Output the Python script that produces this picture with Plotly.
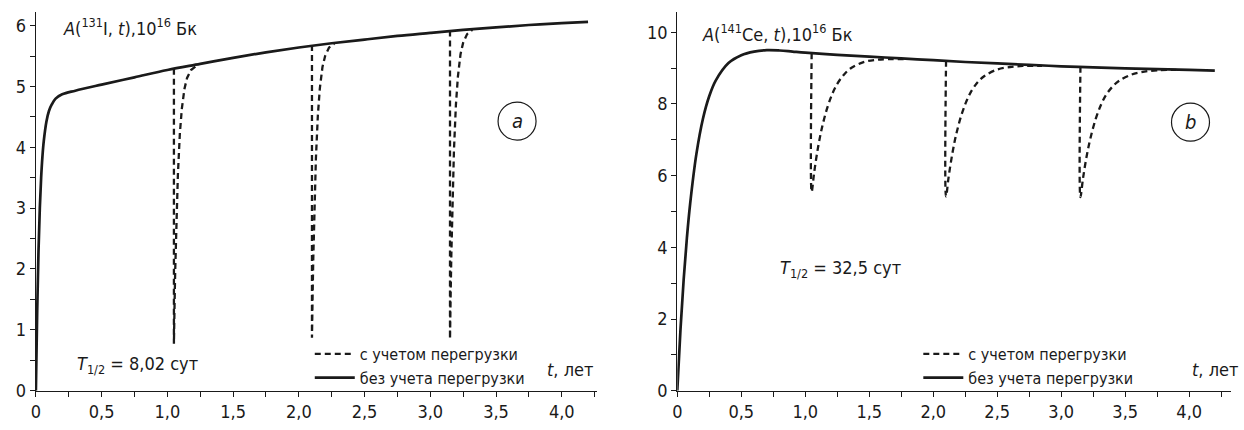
import plotly.graph_objects as go

# ---------------- data ----------------
# Panel a: I-131, solid (без учета перегрузки)
i131_t = [0, 0.01, 0.02, 0.03, 0.04, 0.05, 0.06, 0.08, 0.10, 0.12, 0.15, 0.20, 0.30, 0.50,
          0.75, 1.00, 1.25, 1.50, 1.75, 2.00, 2.25, 2.50, 2.75, 3.00, 3.25, 3.50, 3.75, 4.00, 4.20]
i131_A = [0, 1.3, 2.3, 3.0, 3.5, 3.85, 4.1, 4.42, 4.6, 4.7, 4.8, 4.87, 4.93, 5.03,
          5.15, 5.27, 5.37, 5.47, 5.56, 5.64, 5.71, 5.77, 5.83, 5.88, 5.93, 5.97, 6.01, 6.04, 6.06]

# Panel a: dashed dips (с учетом перегрузки)
i131_dip1_t = [1.05, 1.05, 1.055, 1.06, 1.07, 1.08, 1.095, 1.11, 1.13, 1.15, 1.18, 1.22]
i131_dip1_A = [5.29, 0.77, 1.43, 2.00, 2.89, 3.54, 4.22, 4.63, 4.96, 5.14, 5.27, 5.34]
i131_dip2_t = [2.10, 2.10, 2.105, 2.11, 2.12, 2.13, 2.145, 2.16, 2.18, 2.20, 2.23, 2.27]
i131_dip2_A = [5.68, 0.87, 1.57, 2.17, 3.12, 3.82, 4.53, 4.97, 5.32, 5.50, 5.64, 5.70]
i131_dip3_t = [3.15, 3.15, 3.155, 3.16, 3.17, 3.18, 3.195, 3.21, 3.23, 3.25, 3.28, 3.32]
i131_dip3_A = [5.92, 0.85, 1.59, 2.22, 3.22, 3.95, 4.70, 5.16, 5.53, 5.72, 5.86, 5.93]

# Panel b: Ce-141, solid
ce141_t = [0, 0.025, 0.05, 0.075, 0.10, 0.15, 0.20, 0.25, 0.30, 0.40, 0.50, 0.60, 0.70, 0.80,
           0.90, 1.00, 1.25, 1.50, 1.75, 2.00, 2.25, 2.50, 2.75, 3.00, 3.25, 3.50, 3.75, 4.00, 4.20]
ce141_A = [0, 1.71, 3.11, 4.26, 5.20, 6.62, 7.58, 8.22, 8.65, 9.14, 9.36, 9.46, 9.50, 9.49,
           9.46, 9.43, 9.37, 9.32, 9.27, 9.22, 9.17, 9.13, 9.09, 9.05, 9.02, 8.99, 8.97, 8.95, 8.93]

# Panel b: dashed dips
ce141_dip1_t = [1.05, 1.05, 1.07, 1.10, 1.13, 1.17, 1.21, 1.25, 1.30, 1.35, 1.45, 1.55, 1.65, 1.80]
ce141_dip1_A = [9.42, 5.55, 6.10, 6.79, 7.33, 7.87, 8.27, 8.56, 8.81, 8.98, 9.16, 9.23, 9.25, 9.25]
ce141_dip2_t = [2.10, 2.10, 2.12, 2.15, 2.18, 2.22, 2.26, 2.30, 2.35, 2.40, 2.50, 2.60, 2.70, 2.85]
ce141_dip2_A = [9.21, 5.42, 5.96, 6.63, 7.16, 7.69, 8.08, 8.37, 8.62, 8.78, 8.96, 9.03, 9.06, 9.06]
ce141_dip3_t = [3.15, 3.15, 3.17, 3.20, 3.23, 3.27, 3.31, 3.35, 3.40, 3.45, 3.55, 3.65, 3.75, 3.90]
ce141_dip3_A = [9.04, 5.40, 5.92, 6.57, 7.07, 7.59, 7.97, 8.25, 8.48, 8.64, 8.82, 8.90, 8.94, 8.95]

x_tickvals = [0, 0.5, 1.0, 1.5, 2.0, 2.5, 3.0, 3.5, 4.0]
x_ticktext = ["0", "0,5", "1,0", "1,5", "2,0", "2,5", "3,0", "3,5", "4,0"]
ya_tickvals = [0, 1, 2, 3, 4, 5, 6]
ya_ticktext = ["0", "1", "2", "3", "4", "5", "6"]
yb_tickvals = [0, 2, 4, 6, 8, 10]
yb_ticktext = ["0", "2", "4", "6", "8", "10"]

legend_labels = ["с учетом перегрузки", "без учета перегрузки"]

# ---------------- figure ----------------
W, H = 1244, 430
FONT = "DejaVu Sans Condensed, Liberation Sans Narrow, Roboto, sans-serif"
BLACK = "#1a1a1a"


def join(*segs):
    xs, ys = [], []
    for t, a in segs:
        if xs:
            xs.append(None)
            ys.append(None)
        xs += list(t)
        ys += list(a)
    return xs, ys


fig = go.Figure()

da_x, da_y = join((i131_dip1_t, i131_dip1_A), (i131_dip2_t, i131_dip2_A), (i131_dip3_t, i131_dip3_A))
db_x, db_y = join((ce141_dip1_t, ce141_dip1_A), (ce141_dip2_t, ce141_dip2_A), (ce141_dip3_t, ce141_dip3_A))

dash_line = dict(color=BLACK, width=2.3, dash="6px,4px")
solid_line = dict(color=BLACK, width=2.7)

fig.add_trace(go.Scatter(x=da_x, y=da_y, mode="lines", line=dash_line, name=legend_labels[0],
                         xaxis="x", yaxis="y", legend="legend", connectgaps=False))
fig.add_trace(go.Scatter(x=i131_t, y=i131_A, mode="lines", line=solid_line, name=legend_labels[1],
                         xaxis="x", yaxis="y", legend="legend", line_shape="spline"))
fig.add_trace(go.Scatter(x=db_x, y=db_y, mode="lines", line=dash_line, name=legend_labels[0],
                         xaxis="x2", yaxis="y2", legend="legend2", connectgaps=False, line_shape="spline"))
fig.add_trace(go.Scatter(x=ce141_t, y=ce141_A, mode="lines", line=solid_line, name=legend_labels[1],
                         xaxis="x2", yaxis="y2", legend="legend2", line_shape="spline"))

# pixel layout
a_x0, a_x1 = 31, 594
b_x0, b_x1 = 675, 1231
y_bot, y_top = 400, 12
a_xrange = [0, (a_x1 - a_x0) / 132.0]
b_xrange = [0, (b_x1 - b_x0) / 128.5]
a_yrange = [0, (y_bot - y_top) / 62.3]
b_yrange = [0, (y_bot - y_top) / 36.7]

ydom = [(H - y_bot) / H, (H - y_top) / H]

axis_common = dict(showgrid=False, zeroline=False, showline=True, linecolor=BLACK, linewidth=1.4,
                   ticks="outside", ticklen=5, tickwidth=1.4, tickcolor=BLACK,
                   tickfont=dict(family=FONT, size=18, color=BLACK))

fig.update_layout(
    width=W, height=H,
    margin=dict(l=0, r=0, t=0, b=0),
    paper_bgcolor="white", plot_bgcolor="white",
    font=dict(family=FONT, color=BLACK),
    xaxis=dict(domain=[a_x0 / W, a_x1 / W], range=a_xrange, anchor="y",
               tickvals=x_tickvals, ticktext=x_ticktext,
               minor=dict(ticks="outside", ticklen=5, tickwidth=1.2, tickcolor=BLACK, dtick=0.25, tick0=0),
               **axis_common),
    yaxis=dict(domain=ydom, range=a_yrange, anchor="x",
               tickvals=ya_tickvals, ticktext=ya_ticktext,
               minor=dict(ticks="outside", ticklen=5, tickwidth=1.2, tickcolor=BLACK, dtick=0.5, tick0=0),
               **axis_common),
    xaxis2=dict(domain=[b_x0 / W, b_x1 / W], range=b_xrange, anchor="y2",
                tickvals=x_tickvals, ticktext=x_ticktext,
                minor=dict(ticks="outside", ticklen=5, tickwidth=1.2, tickcolor=BLACK, dtick=0.25, tick0=0),
                **axis_common),
    yaxis2=dict(domain=ydom, range=b_yrange, anchor="x2",
                tickvals=yb_tickvals, ticktext=yb_ticktext,
                minor=dict(ticks="outside", ticklen=5, tickwidth=1.2, tickcolor=BLACK, dtick=1, tick0=0),
                **axis_common),
    legend=dict(x=306 / W, y=1 - 345 / H, xanchor="left", yanchor="top", bgcolor="rgba(0,0,0,0)",
                font=dict(family=FONT, size=16, color=BLACK), tracegroupgap=0, itemwidth=40),
    legend2=dict(x=917 / W, y=1 - 345 / H, xanchor="left", yanchor="top", bgcolor="rgba(0,0,0,0)",
                 font=dict(family=FONT, size=16, color=BLACK), tracegroupgap=0, itemwidth=40),
    showlegend=True,
)

ann_font = dict(family=FONT, size=18, color=BLACK)
annotations = [
    dict(xref="x", yref="y", x=0.19, y=5.97, xanchor="left", yanchor="middle",
         text="<i>A</i>(<sup>131</sup>I, <i>t</i>),10<sup>16</sup> Бк", showarrow=False, font=ann_font),
    dict(xref="x2", yref="y2", x=0.18, y=9.99, xanchor="left", yanchor="middle",
         text="<i>A</i>(<sup>141</sup>Ce, <i>t</i>),10<sup>16</sup> Бк", showarrow=False, font=ann_font),
    dict(xref="x", yref="y", x=0.30, y=0.42, xanchor="left", yanchor="middle",
         text="<i>T</i><sub>1/2</sub> = 8,02 сут", showarrow=False, font=ann_font),
    dict(xref="x2", yref="y2", x=0.79, y=3.4, xanchor="left", yanchor="middle",
         text="<i>T</i><sub>1/2</sub> = 32,5 сут", showarrow=False, font=ann_font),
    dict(xref="paper", yref="paper", x=592 / W, y=1 - 378 / H, xanchor="right", yanchor="middle",
         text="<i>t</i>, лет", showarrow=False, font=ann_font),
    dict(xref="paper", yref="paper", x=1240 / W, y=1 - 378 / H, xanchor="right", yanchor="middle",
         text="<i>t</i>, лет", showarrow=False, font=ann_font),
    dict(xref="x", yref="y", x=3.66, y=4.43, text="<i>a</i>", showarrow=False,
         font=dict(family=FONT, size=20, color=BLACK)),
    dict(xref="x2", yref="y2", x=4.01, y=7.49, text="<i>b</i>", showarrow=False,
         font=dict(family=FONT, size=20, color=BLACK)),
]
fig.update_layout(annotations=annotations)

fig.add_shape(type="circle", xref="x", yref="y", xsizemode="pixel", ysizemode="pixel",
              xanchor=3.66, yanchor=4.43, x0=-19, x1=19, y0=-19, y1=19,
              line=dict(color=BLACK, width=1.2))
fig.add_shape(type="circle", xref="x2", yref="y2", xsizemode="pixel", ysizemode="pixel",
              xanchor=4.01, yanchor=7.49, x0=-19, x1=19, y0=-19, y1=19,
              line=dict(color=BLACK, width=1.2))

fig.write_html("out.html")
